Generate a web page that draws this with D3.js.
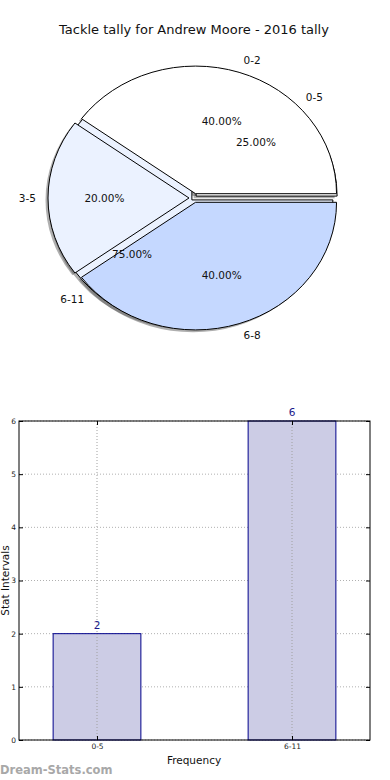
<!DOCTYPE html>
<html><head><meta charset="utf-8">
<script src="https://cdn.jsdelivr.net/npm/d3@7"></script>
<style>body{margin:0;background:#fff}svg{display:block;font-family:"DejaVu Sans",sans-serif}</style>
</head><body>
<svg id="c" width="390" height="780"></svg>
<script>
const title = "Tackle tally for Andrew Moore - 2016 tally";
const pieLabels = ["0-2", "3-5", "6-8"];
const pieValues = [40, 20, 40];
const pie2Labels = ["0-5", "6-11"];
const pie2Values = [25, 75];
const pieColors = ["#FFFFFF", "#EBF2FF", "#C5D8FF"];
const pie2Colors = ["#FFFFFF", "#EBF2FF"];
const barCats = ["0-5", "6-11"];
const barValues = [2, 6];
const yTicks = [0, 1, 2, 3, 4, 5, 6];

const svg = d3.select("#c");
svg.append("text").attr("x", 194).attr("y", 34).attr("text-anchor", "middle")
  .attr("font-size", 13).attr("fill", "#111").text(title);

// ---- pie ----
const cx = 194, cy = 198, r = 141, sy = 0.905;
const pieGen = d3.pie().sort(null).startAngle(Math.PI / 2).endAngle(Math.PI / 2 - 2 * Math.PI);
const arc = d3.arc().innerRadius(0).outerRadius(r);
const gShadow = svg.append("g").attr("transform", `translate(${cx},${cy}) scale(1,${sy})`);
const gPie2 = svg.append("g").attr("transform", `translate(${cx},${cy}) scale(1,${sy})`);
const gPie1 = svg.append("g").attr("transform", `translate(${cx},${cy}) scale(1,${sy})`);

function drawPie(g, values, colors, explode) {
  const arcs = pieGen(values);
  arcs.forEach((a, i) => {
    const m = (a.startAngle + a.endAngle) / 2;
    const ux = Math.sin(m), uy = -Math.cos(m);
    const dx = explode * ux, dy = explode * uy;
    a._d = [dx, dy, ux, uy];
    gShadow.append("path").attr("d", arc(a))
      .attr("transform", `translate(${dx - 2.5},${dy + 2.5})`)
      .attr("fill", "#4d4d4d").attr("opacity", 0.45);
    g.append("path").attr("d", arc(a))
      .attr("transform", `translate(${dx},${dy})`)
      .attr("fill", colors[i]).attr("stroke", "#000").attr("stroke-width", 1)
      .attr("vector-effect", "non-scaling-stroke").attr("stroke-linejoin", "round");
  });
  return arcs;
}
function pieText(values, labels, arcs) {
  const tot = d3.sum(values);
  arcs.forEach((a, i) => {
    const [dx, dy, ux, uy] = a._d;
    const lx = cx + dx + 1.1 * r * ux, ly = cy + (dy + 1.1 * r * uy) * sy;
    svg.append("text").attr("x", lx + (ux < -0.001 ? 2 : 0)).attr("y", ly).attr("dy", "0.35em")
      .attr("text-anchor", ux > 0.001 ? "start" : (ux < -0.001 ? "end" : "middle"))
      .attr("font-size", 10.5).attr("fill", "#111").text(labels[i]);
    const px = cx + dx + 0.6 * r * ux, py = cy + (dy + 0.6 * r * uy) * sy;
    svg.append("text").attr("x", px).attr("y", py).attr("dy", "0.35em")
      .attr("text-anchor", "middle").attr("font-size", 10.5).attr("fill", "#111")
      .text((values[i] / tot * 100).toFixed(2) + "%");
  });
}
const a2 = drawPie(gPie2, pie2Values, pie2Colors, 3);
const a1 = drawPie(gPie1, pieValues, pieColors, 5);
pieText(pie2Values, pie2Labels, a2);
pieText(pieValues, pieLabels, a1);

// ---- bar chart ----
const L = 19, R = 370, T = 421, B = 740;
const x = d3.scaleLinear().domain([-0.4, 1.4]).range([L, R]);
const y = d3.scaleLinear().domain([0, 6]).range([B, T]);
const bw = 0.45;
const bg = svg.append("g");

bg.selectAll(".gy").data(yTicks).join("line")
  .attr("x1", L).attr("x2", R).attr("y1", d => y(d)).attr("y2", d => y(d))
  .attr("stroke", "#b0b0b0").attr("stroke-dasharray", "1,2").attr("stroke-width", 1);

bg.selectAll(".bar").data(barValues).join("rect")
  .attr("x", (d, i) => x(i - bw / 2)).attr("width", (d, i) => x(i + bw / 2) - x(i - bw / 2))
  .attr("y", d => y(d)).attr("height", d => B - y(d))
  .attr("fill", "#CCCCE5").attr("stroke", "#00008B").attr("stroke-width", 1);

bg.selectAll(".gx").data(barCats).join("line")
  .attr("x1", (d, i) => x(i)).attr("x2", (d, i) => x(i)).attr("y1", T).attr("y2", B)
  .attr("stroke", "#a0a0a0").attr("stroke-dasharray", "1,2").attr("stroke-width", 1);

bg.selectAll(".vl").data(barValues).join("text")
  .attr("x", (d, i) => x(i)).attr("y", d => y(d) - 5).attr("text-anchor", "middle")
  .attr("font-size", 10.5).attr("fill", "#1a1a8a").text(d => d);

bg.append("rect").attr("x", L).attr("y", T).attr("width", R - L).attr("height", B - T)
  .attr("fill", "none").attr("stroke", "#000").attr("stroke-width", 1);

const yAxisL = d3.axisLeft(y).tickValues(yTicks).tickSize(-4).tickPadding(3).tickFormat(d3.format("d"));
const gyl = svg.append("g").attr("transform", `translate(${L},0)`).call(yAxisL);
gyl.select(".domain").remove();
gyl.selectAll("text").attr("font-size", 7.5).attr("fill", "#222").attr("font-family", "DejaVu Sans");
const yAxisR = d3.axisRight(y).tickValues(yTicks).tickSize(-4).tickFormat("");
const gyr = svg.append("g").attr("transform", `translate(${R},0)`).call(yAxisR);
gyr.select(".domain").remove();

const xAxis = d3.axisBottom(x).tickValues([0, 1]).tickSize(-4).tickPadding(4).tickFormat((d) => barCats[d]);
const gx = svg.append("g").attr("transform", `translate(0,${B})`).call(xAxis);
gx.select(".domain").remove();
gx.selectAll("text").attr("font-size", 7.5).attr("fill", "#222").attr("font-family", "DejaVu Sans");
const xAxisT = d3.axisTop(x).tickValues([0, 1]).tickSize(-4).tickFormat("");
const gxt = svg.append("g").attr("transform", `translate(0,${T})`).call(xAxisT);
gxt.select(".domain").remove();

svg.append("text").attr("x", 194).attr("y", 764).attr("text-anchor", "middle")
  .attr("font-size", 10.5).attr("fill", "#111").text("Frequency");
svg.append("text").attr("transform", `translate(9,${(T + B) / 2}) rotate(-90)`)
  .attr("text-anchor", "middle").attr("font-size", 10.5).attr("fill", "#111").text("Stat Intervals");
svg.append("text").attr("x", 0).attr("y", 774).attr("font-size", 11.5).attr("font-weight", "bold")
  .attr("fill", "#9a9a9a").attr("opacity", 0.85).text("Dream-Stats.com");
</script>
</body></html>
